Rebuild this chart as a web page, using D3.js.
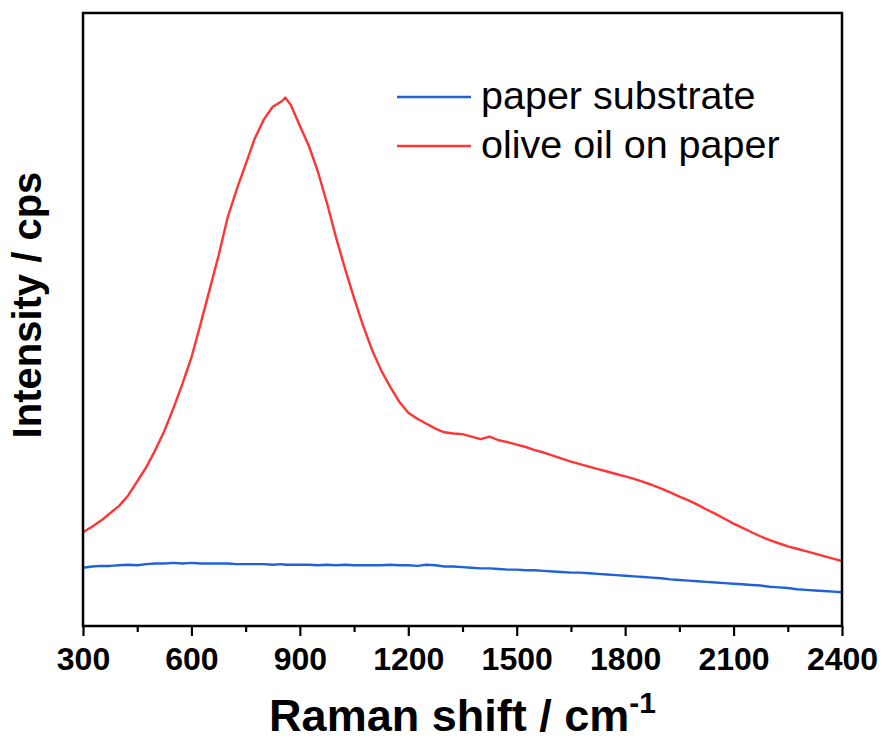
<!DOCTYPE html>
<html><head><meta charset="utf-8">
<script src="https://cdn.jsdelivr.net/npm/d3@7"></script>
<style>body{margin:0;background:#fff}svg{display:block}text{font-family:"Liberation Sans",Arial,sans-serif}</style>
</head><body><svg id="c" width="882" height="740"></svg>
<script>
const wavenumbers = [300,325,350,375,400,425,450,475,500,525,550,575,600,625,650,675,700,725,750,775,800,825,850,860,875,900,925,950,975,1000,1025,1050,1075,1100,1125,1150,1175,1200,1225,1250,1275,1300,1325,1350,1375,1400,1425,1450,1475,1500,1525,1550,1575,1600,1625,1650,1675,1700,1725,1750,1775,1800,1825,1850,1875,1900,1925,1950,1975,2000,2025,2050,2075,2100,2125,2150,2175,2200,2225,2250,2275,2300,2325,2350,2375,2400];
const oliveOil = [153,162,172,184,196,213,236,259,287,318,355,395,438,492,548,604,666,712,753,795,826,847,856,862,850,816,783,741,690,634,583,535,490,450,417,390,366,348,338,330,322,316,314,313,309,305,309,303,300,296,292,287,283,278,273,268,264,260,256,252,248,244,240,235,230,224,218,211,205,198,190,183,175,167,160,153,146,140,135,130,126,122,118,114,110,106];
const paper = [95,97,98,98,99,100,99,101,102,102,103,102,103,102,102,102,102,101,101,101,101,100,101,100,100,100,100,99,100,99,100,99,99,99,99,100,99,99,98,100,99,97,97,96,95,94,94,93,92,92,91,91,90,89,88,87,87,86,85,84,83,82,81,80,79,78,76,75,74,73,72,71,70,69,68,67,66,64,63,62,60,59,58,57,56,55];
const xTicks = [300,600,900,1200,1500,1800,2100,2400];
const xMinorTicks = [450,750,1050,1350,1650,1950,2250];
const seriesNames = ["paper substrate","olive oil on paper"];
const seriesColors = ["#1f62dc","#ff3535"];

const svg = d3.select("#c");
const L=83, R=842, T=13, B=626;
const x = d3.scaleLinear().domain([300,2400]).range([L,R]);
const y = d3.scaleLinear().domain([0,1000]).range([B,T]);

const line = d3.line().x((d,i)=>x(wavenumbers[i])).y(d=>y(d));
[paper, oliveOil].forEach((s,k)=>{
  svg.append("path").datum(s).attr("d",line).attr("fill","none")
    .attr("stroke",seriesColors[k]).attr("stroke-width",2.4).attr("stroke-linejoin","round");
});

// frame
svg.append("rect").attr("x",L).attr("y",T).attr("width",R-L).attr("height",B-T)
  .attr("fill","none").attr("stroke","#000").attr("stroke-width",2.5);

// bottom axis
const ax = svg.append("g").attr("transform",`translate(0,${B})`)
  .call(d3.axisBottom(x).tickValues(xTicks).tickSize(10).tickPadding(11).tickFormat(d3.format("d")));
ax.select(".domain").remove();
ax.selectAll(".tick line").attr("stroke","#000").attr("stroke-width",2.2);
ax.selectAll("text").attr("font-size",32).attr("font-weight","bold").attr("fill","#000")
  .attr("font-family","Liberation Sans, Arial, sans-serif");
const axm = svg.append("g").attr("transform",`translate(0,${B})`)
  .call(d3.axisBottom(x).tickValues(xMinorTicks).tickSize(6).tickFormat(""));
axm.select(".domain").remove();
axm.selectAll(".tick line").attr("stroke","#000").attr("stroke-width",2.2);

// axis titles
const xt = svg.append("text").attr("x",(L+R)/2).attr("y",731).attr("text-anchor","middle")
  .attr("font-size",45).attr("font-weight","bold").attr("fill","#000");
xt.append("tspan").text("Raman shift / cm");
xt.append("tspan").attr("font-size",30).attr("dy",-18).text("-1");

svg.append("text").attr("transform",`translate(41,305) rotate(-90)`).attr("text-anchor","middle")
  .attr("font-size",40).attr("font-weight","bold").attr("fill","#000").text("Intensity / cps");

// legend
seriesNames.forEach((n,k)=>{
  const yy = 97 + k*49;
  svg.append("line").attr("x1",397).attr("x2",471).attr("y1",yy).attr("y2",yy)
    .attr("stroke",seriesColors[k]).attr("stroke-width",2.5);
  svg.append("text").attr("x",481).attr("y",yy+12).attr("font-size",39.5).attr("fill","#000").text(n);
});
</script></body></html>
